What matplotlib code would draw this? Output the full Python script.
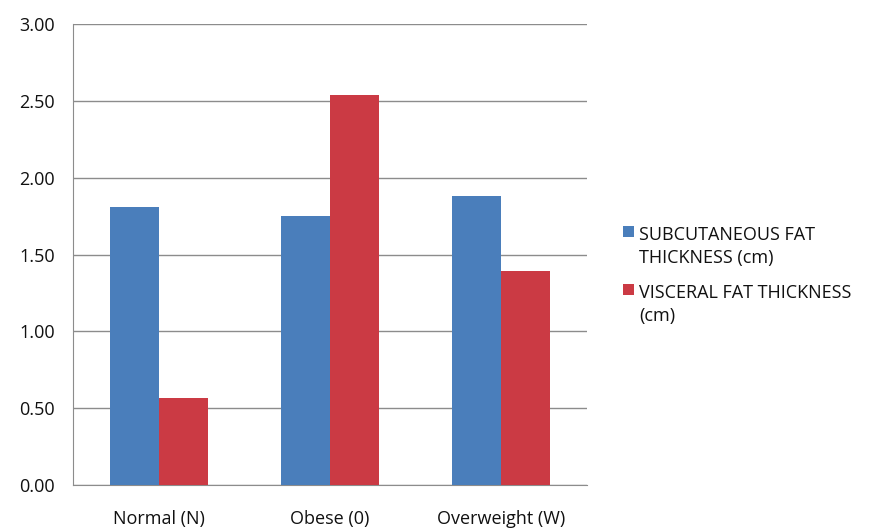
import matplotlib.pyplot as plt
import numpy as np

plt.rcParams['font.family'] = ['Open Sans', 'DejaVu Sans']

categories = ['Normal (N)', 'Obese (0)', 'Overweight (W)']
subcutaneous = [1.81, 1.75, 1.88]
visceral = [0.57, 2.54, 1.39]
series_names = ['SUBCUTANEOUS FAT\nTHICKNESS (cm)', 'VISCERAL FAT THICKNESS\n(cm)']
yticks = [0.0, 0.5, 1.0, 1.5, 2.0, 2.5, 3.0]

fig = plt.figure(figsize=(8.71, 5.32), dpi=100)
ax = fig.add_axes([0.084, 0.088, 0.59, 0.867])

x = np.arange(len(categories))
w = 0.286
ax.bar(x - w / 2, subcutaneous, w, color='#4a7ebb', label=series_names[0], zorder=3)
ax.bar(x + w / 2, visceral, w, color='#cb3a44', label=series_names[1], zorder=3)

ax.set_xlim(-0.5, len(categories) - 0.5)
ax.set_ylim(0, 3.0)
ax.set_yticks(yticks)
ax.set_yticklabels(['%.2f' % v for v in yticks])
ax.set_xticks(x)
ax.set_xticklabels(categories)
ax.yaxis.grid(True, color='#8c8c8c', linewidth=1.0, zorder=0)
ax.set_axisbelow(True)

for s in ['top', 'right']:
    ax.spines[s].set_visible(False)
ax.spines['left'].set_color('#8c8c8c')
ax.spines['bottom'].set_color('#8c8c8c')
ax.tick_params(axis='both', length=0, labelsize=13, colors='#111111')
ax.tick_params(axis='x', pad=18)
ax.tick_params(axis='y', pad=13)

leg = ax.legend(loc='center left', bbox_to_anchor=(1.07, 0.455), frameon=False,
                fontsize=13, handlelength=0.6, handleheight=0.6, handletextpad=0.3,
                labelspacing=0.95, borderpad=0, borderaxespad=0)
for t in leg.get_texts():
    t.set_color('#111111')
    t.set_linespacing(1.35)
# markers sit next to the first text line, like Excel
for p in leg.legend_handles:
    p.set_y(p.get_y() + 11)

fig.savefig('out.png', dpi=100)
